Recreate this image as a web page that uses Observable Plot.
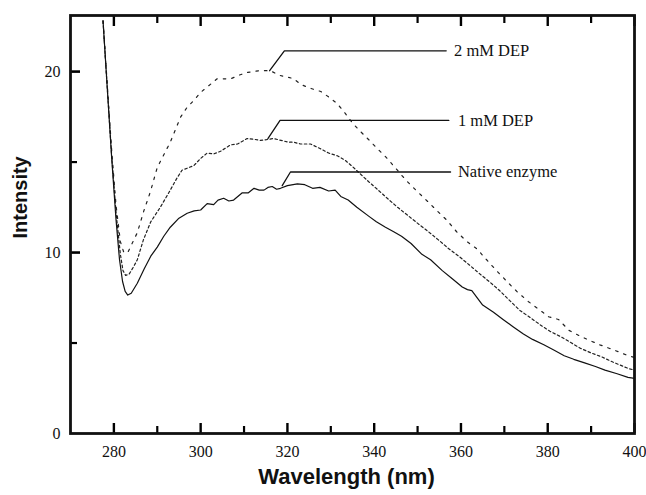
<!DOCTYPE html>
<html><head><meta charset="utf-8">
<script src="https://cdn.jsdelivr.net/npm/d3@7"></script>
<script src="https://cdn.jsdelivr.net/npm/@observablehq/plot@0.6"></script>
<style>
body{margin:0;background:#fff;}
#chart svg{display:block;}
</style></head><body><div id="chart"></div>
<script>
// [wavelength (nm), intensity]
const nativeEnzyme = [[277.5,22.8],[278.5,19.0],[279.5,15.2],[280.5,11.8],[281.3,9.6],[282.0,8.4],[282.6,7.85],[283.2,7.65],[284.0,7.75],[285.4,8.3],[287.0,9.1],[288.5,9.8],[290.0,10.3],[291.5,10.9],[293.0,11.4],[295.0,11.9],[296.9,12.17],[298.5,12.3],[300.0,12.35],[301.5,12.7],[303.0,12.65],[304.0,12.9],[305.3,13.0],[306.5,12.85],[307.6,12.9],[309.6,13.3],[311.0,13.3],[312.3,13.55],[313.5,13.45],[314.6,13.45],[315.5,13.6],[316.5,13.65],[317.5,13.5],[318.4,13.55],[320.0,13.7],[322.3,13.8],[324.0,13.75],[325.8,13.55],[327.5,13.6],[329.5,13.4],[331.0,13.45],[332.3,13.1],[334.0,12.9],[336.0,12.5],[338.8,12.0],[340.5,11.7],[342.6,11.4],[344.5,11.15],[346.3,10.9],[348.5,10.5],[351.0,9.9],[353.0,9.6],[355.7,9.0],[358.0,8.55],[360.3,8.1],[361.5,7.95],[362.5,7.9],[365.0,7.1],[367.5,6.7],[369.7,6.3],[372.0,5.9],[374.4,5.5],[376.5,5.2],[379.1,4.9],[381.5,4.6],[383.8,4.3],[386.0,4.1],[388.5,3.9],[391.0,3.7],[393.2,3.5],[396.0,3.3],[398.5,3.1],[400.0,3.05]];
const dep1mM = [[277.5,22.8],[278.5,19.0],[279.5,15.3],[280.5,12.2],[281.5,9.9],[282.1,9.0],[282.7,8.74],[283.5,8.8],[284.5,9.2],[285.4,9.6],[286.8,10.7],[288.5,11.7],[290.7,12.5],[293.0,13.45],[294.5,14.1],[295.7,14.55],[298.4,14.8],[300.0,15.2],[301.5,15.5],[303.0,15.45],[304.6,15.6],[306.9,15.95],[308.5,16.0],[310.7,16.3],[312.5,16.25],[313.8,16.2],[315.5,16.25],[316.8,16.3],[318.5,16.2],[320.2,16.1],[321.4,16.1],[323.0,16.0],[325.3,16.0],[327.5,15.75],[329.5,15.5],[331.5,15.35],[333.3,15.1],[335.0,14.75],[337.0,14.3],[338.8,13.9],[340.7,13.5],[343.0,13.0],[345.4,12.5],[347.5,12.1],[350.1,11.6],[352.5,11.15],[354.8,10.7],[357.0,10.25],[359.5,9.8],[362.0,9.3],[364.2,8.85],[366.5,8.4],[368.9,7.9],[371.0,7.4],[373.6,6.8],[376.0,6.4],[378.3,6.0],[380.5,5.65],[383.0,5.35],[385.5,5.0],[387.6,4.7],[390.0,4.45],[392.3,4.25],[395.0,3.95],[398.5,3.6],[400.0,3.5]];
const dep2mM = [[277.5,22.8],[278.5,19.2],[279.5,15.6],[280.5,12.6],[281.5,10.6],[282.3,10.0],[283.2,10.0],[283.8,10.3],[284.6,10.7],[285.4,11.1],[286.9,12.3],[288.4,13.35],[290.0,14.7],[291.5,15.4],[293.0,16.1],[295.4,17.5],[296.8,18.0],[298.4,18.4],[300.0,18.85],[301.5,19.15],[303.8,19.6],[305.5,19.6],[306.9,19.6],[308.8,19.8],[310.7,19.95],[313.5,20.05],[316.1,20.05],[318.0,19.8],[320.0,19.7],[321.5,19.6],[323.0,19.3],[325.0,19.1],[327.7,18.9],[329.5,18.6],[331.4,18.25],[333.3,17.7],[335.2,17.1],[337.0,16.65],[338.9,16.2],[340.7,15.75],[342.6,15.3],[345.0,14.65],[347.3,14.0],[349.6,13.45],[352.0,12.9],[354.3,12.35],[356.7,11.8],[359.0,11.15],[361.4,10.6],[363.7,10.2],[366.1,9.55],[368.4,8.95],[370.8,8.35],[373.1,7.8],[375.5,7.3],[378.0,6.85],[380.2,6.45],[382.5,6.3],[384.9,5.7],[387.3,5.4],[389.6,5.15],[392.0,4.9],[394.3,4.7],[396.5,4.5],[398.5,4.3],[400.0,4.2]];

const labelNames = ["2 mM DEP", "1 mM DEP", "Native enzyme"];
const leaderStartX = [315.9, 315.5, 318.8];
const leaderStartY = [20.05, 16.3, 13.7];
const leaderElbowX = [319.3, 318.3, 320.7];
const leaderElbowY = [21.15, 17.3, 14.45];
const leaderEndX = [356.6, 357.2, 357.6];
const labelX = [358.4, 359.3, 359.3];

const xTicksMajor = [280, 300, 320, 340, 360, 380, 400];
const xTicksMinor = [290, 310, 330, 350, 370, 390];
const yTicksLabel = [0, 10, 20];
const yTicksMajor = [10, 20];
const yTicksMinor = [5, 15];
const xDomain = [270, 400];
const yDomain = [0, 23.1];
const xTitle = "Wavelength (nm)";
const yTitle = "Intensity";

const W = 646, H = 495, mL = 70, mR = 12, mT = 15, mB = 62;
const innerW = W - mL - mR, innerH = H - mT - mB;
// pixel lengths of tick marks converted to data units
const pxY = (yDomain[1] - yDomain[0]) / innerH;
const pxX = (xDomain[1] - xDomain[0]) / innerW;

const toRows = arr => arr.map(([w, v]) => ({w, v}));
const leaders = labelNames.flatMap((n, i) => [
  {n, x: leaderStartX[i], y: leaderStartY[i]},
  {n, x: leaderElbowX[i], y: leaderElbowY[i]},
  {n, x: leaderEndX[i], y: leaderElbowY[i]}
]);
const sans = "'Liberation Sans',Arial,sans-serif";

const chart = Plot.plot({
  width: W, height: H,
  marginLeft: mL, marginRight: mR, marginTop: mT, marginBottom: mB,
  style: {fontFamily: "'Liberation Serif','Times New Roman',serif", fontSize: "16px", background: "#fff", color: "#111"},
  x: {domain: xDomain},
  y: {domain: yDomain},
  marks: [
    Plot.axisX({ticks: xTicksMajor, tickSize: 0, tickPadding: 12, tickFormat: d => d, label: null}),
    Plot.axisY({ticks: yTicksLabel, tickSize: 0, tickPadding: 10, tickFormat: d => d, label: null}),
    // inward ticks
    Plot.ruleX(xTicksMajor, {x: d => d, y1: yDomain[0], y2: yDomain[0] + 10 * pxY, strokeWidth: 2.4, stroke: "#000"}),
    Plot.ruleX(xTicksMinor, {x: d => d, y1: yDomain[0], y2: yDomain[0] + 7 * pxY, strokeWidth: 2.2, stroke: "#000"}),
    Plot.ruleX(xTicksMajor, {x: d => d, y1: yDomain[1], y2: yDomain[1] - 11 * pxY, strokeWidth: 2.4, stroke: "#000"}),
    Plot.ruleX(xTicksMinor, {x: d => d, y1: yDomain[1], y2: yDomain[1] - 8 * pxY, strokeWidth: 2.2, stroke: "#000"}),
    Plot.ruleY(yTicksMajor, {y: d => d, x1: xDomain[0], x2: xDomain[0] + 10 * pxX, strokeWidth: 2.6, stroke: "#000"}),
    Plot.ruleY(yTicksMinor, {y: d => d, x1: xDomain[0], x2: xDomain[0] + 7 * pxX, strokeWidth: 2.2, stroke: "#000"}),
    // spectra
    Plot.line(toRows(dep2mM), {x: "w", y: "v", stroke: "#222", strokeWidth: 1.2, strokeDasharray: "2.5,6"}),
    Plot.line(toRows(dep1mM), {x: "w", y: "v", stroke: "#222", strokeWidth: 1.2, strokeDasharray: "2.5,2.5"}),
    Plot.line(toRows(nativeEnzyme), {x: "w", y: "v", stroke: "#111", strokeWidth: 1.2}),
    // leader lines + labels
    Plot.line(leaders, {x: "x", y: "y", z: "n", stroke: "#111", strokeWidth: 1.3}),
    Plot.text(labelNames, {x: (d, i) => labelX[i], y: (d, i) => leaderElbowY[i], text: d => d, textAnchor: "start", fontSize: 16.5, fill: "#111"}),
    // axis titles
    Plot.text([xTitle], {frameAnchor: "bottom", text: d => d, dx: -6, dy: 50, fontFamily: sans, fontWeight: "bold", fontSize: 22, fill: "#111"}),
    Plot.text([yTitle], {frameAnchor: "left", text: d => d, rotate: -90, dx: -50, dy: 14, fontFamily: sans, fontWeight: "bold", fontSize: 20, fill: "#111"}),
    Plot.frame({stroke: "#111", strokeWidth: 2.8})
  ]
});
document.getElementById("chart").appendChild(chart);
</script>
</body></html>
